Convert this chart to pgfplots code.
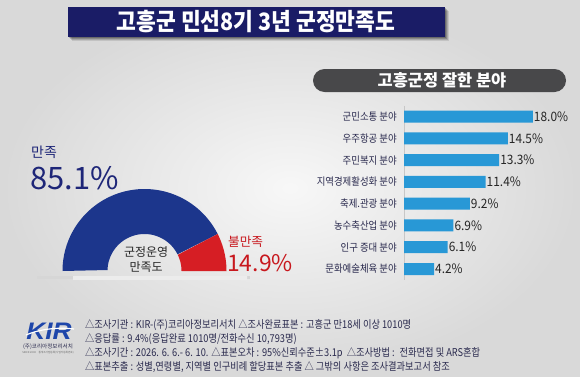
\documentclass[border=0pt]{standalone}
\usepackage{fontspec}
\setmainfont{Noto Sans CJK KR}
\newfontfamily\kirfont{Liberation Sans}
\usepackage{pgfplots}
\usepackage{pgfplotstable}
\pgfplotsset{compat=1.18}

\definecolor{navy}{RGB}{26,28,102}
\definecolor{donutblue}{RGB}{28,54,140}
\definecolor{donutred}{RGB}{214,30,36}
\definecolor{barblue}{RGB}{40,152,214}
\definecolor{pillgray}{RGB}{72,72,74}
\definecolor{labnavy}{RGB}{42,42,78}
\definecolor{textnavy}{RGB}{30,38,120}
\definecolor{textred}{RGB}{200,24,30}
\definecolor{kirblue}{RGB}{30,70,170}
\definecolor{bgc}{RGB}{236,236,236}

\pgfplotstableread{
idx value
0 18.0
1 14.5
2 13.3
3 11.4
4 9.2
5 6.9
6 6.1
7 4.2
}\fieldtable

\def\satisfied{85.1}
\def\dissatisfied{14.9}
\pgfmathsetmacro\splitang{180*\dissatisfied/100}

\begin{document}
\begin{tikzpicture}[x=1bp,y=1bp]
\useasboundingbox (0,0) rectangle (580,376);
% background
\shade[inner color=black!3, outer color=black!15] (0,0) rectangle (580,376);

% title banner
\foreach \o/\op in {4/0.10,3/0.14,2/0.18,1/0.22}{
  \fill[black,opacity=\op] (68+\o,339-\o) rectangle (445+\o,369-\o);
}
\fill[navy] (68,339) rectangle (445,369);
\node[text=white,font=\bfseries\fontsize{24}{24}\selectfont,xscale=0.9] at (256,354) {고흥군 민선8기 3년 군정만족도};

% pill
\fill[pillgray, rounded corners=11.5bp] (313,284) rectangle (566,307);
\node[text=white,font=\bfseries\fontsize{16.5}{16.5}\selectfont] at (442,295.5) {고흥군정 잘한 분야};

% bar chart
\begin{axis}[
  at={(404bp,270.2bp)}, anchor=north west,
  scale only axis,
  x=7.16bp, y=21.76bp,
  y dir=reverse,
  xmin=0, xmax=18, ymin=-0.5, ymax=7.5,
  xbar, bar width=12bp,
  axis x line=none,
  axis y line*=left,
  y axis line style={draw=black!22, line width=0.8pt},
  xtick=\empty,
  ytick={0,1,2,3,4,5,6,7},
  yticklabels={군민소통 분야,우주항공 분야,주민복지 분야,지역경제활성화 분야,축제.관광 분야,농수축산업 분야,인구 증대 분야,문화예술체육 분야},
  major tick length=0pt,
  ytick style={draw=none},
  yticklabel style={font=\fontsize{10.5}{10.5}\selectfont, text=labnavy, inner sep=0pt, xshift=-7bp, xscale=0.9},
  point meta=x,
  /pgf/number format/assume math mode=true,
  nodes near coords={\pgfmathprintnumber[fixed,fixed zerofill,precision=1,assume math mode=true]{\pgfplotspointmeta}\%},
  every node near coord/.append style={font=\fontsize{13}{13}\selectfont, text=black!85, anchor=west, inner sep=1bp, xscale=0.92},
  clip=false,
]
\addplot[fill=barblue, draw=none] table[x=value, y=idx]{\fieldtable};
\end{axis}

% donut shadow
\fill[black!16] (37,97.5) rectangle (250,100);
\shade[left color=bgc, middle color=black!60, right color=bgc] (73,96.5) rectangle (247,99.5);

% donut
\begin{axis}[
  at={(62.5bp,105bp)}, anchor=south west,
  scale only axis, width=164bp, height=82bp,
  xmin=-82, xmax=82, ymin=0, ymax=82,
  hide axis, clip=false,
]
\addplot[fill=donutblue, draw=none, domain=0:2, samples=201]
  ({(x<=1 ? 82 : 37)*cos(x<=1 ? \splitang+x*(180-\splitang) : 180-(x-1)*(180-\splitang))},
   {(x<=1 ? 82 : 37)*sin(x<=1 ? \splitang+x*(180-\splitang) : 180-(x-1)*(180-\splitang))});
\addplot[fill=donutred, draw=none, domain=0:2, samples=61]
  ({(x<=1 ? 82 : 37)*cos(x<=1 ? x*\splitang : \splitang-(x-1)*\splitang)},
   {(x<=1 ? 82 : 37)*sin(x<=1 ? x*\splitang : \splitang-(x-1)*\splitang)});
\end{axis}

% donut labels
\node[anchor=west, text=textnavy, font=\fontsize{14}{14}\selectfont, inner sep=0pt] at (31,224) {만족};
\node[anchor=west, text=textnavy, font=\fontsize{31}{31}\selectfont, inner sep=0pt] at (30,198) {\satisfied\%};
\node[anchor=west, text=textred, font=\fontsize{12.7}{12.7}\selectfont, inner sep=0pt] at (228,134.3) {불만족};
\node[anchor=west, text=textred, font=\fontsize{23}{23}\selectfont, inner sep=0pt] at (227,113) {\dissatisfied\%};
\node[text=black!85, font=\fontsize{12}{12}\selectfont, inner sep=0pt] at (146,124.3) {군정운영};
\node[text=black!85, font=\fontsize{12}{12}\selectfont, inner sep=0pt] at (146,109.3) {만족도};

% logo
\node[text=kirblue, font=\kirfont\bfseries\itshape\fontsize{24}{24}\selectfont, inner sep=0pt, xscale=1.1] at (49,45) {KIR};
\draw[white, line width=1.2bp] (26,41) .. controls (40,47) and (58,49) .. (74,47);
\node[text=labnavy, font=\fontsize{5.6}{5.6}\selectfont, inner sep=0pt] at (48,29.3) {(주)코리아정보리서치};
\node[text=black!60, font=\fontsize{2.6}{2.6}\selectfont, inner sep=0pt] at (48,23.5) {SINCE 2000\quad 통계조사업등록(사업자등록번호)};

% footer
\begin{scope}[every node/.style={anchor=west, inner sep=0pt, text=labnavy, font=\fontsize{10.8}{10.8}\selectfont, xscale=0.86}]
\node at (85,51) {△조사기관 : KIR-(주)코리아정보리서치 △조사완료표본 : 고흥군 만18세 이상 1010명};
\node at (85,36.5) {△응답률 : 9.4\%(응답완료 1010명/전화수신 10,793명)};
\node at (85,22.5) {△조사기간 : 2026. 6. 6.- 6. 10. △표본오차 : 95\%신뢰수준±3.1p \ △조사방법 : \ 전화면접 및 ARS혼합};
\node at (85,8.5) {△표본추출 : 성별,연령별, 지역별 인구비례 할당표본 추출 △ 그밖의 사항은 조사결과보고서 참조};
\end{scope}
\end{tikzpicture}
\end{document}
